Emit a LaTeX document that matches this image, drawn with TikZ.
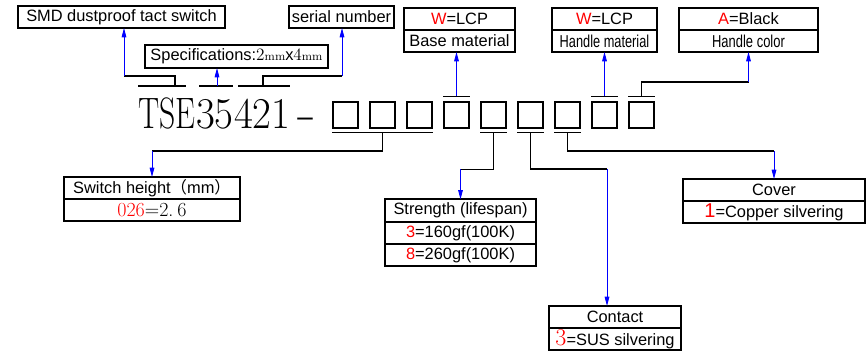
\documentclass[tikz,border=0pt]{standalone}
\usepackage{fontspec}
\setsansfont{Liberation Sans}
\newfontfamily\cjk{Noto Sans CJK SC}
\usetikzlibrary{arrows.meta,positioning}
\newcommand{\opt}[1]{\textcolor{red}{#1}}

\begin{document}
\begin{tikzpicture}[
  x=0.75pt, y=-0.75pt, font=\sffamily\fontsize{12.3}{14}\selectfont,
  cell/.style={draw, line width=1.5pt, minimum height=16.5pt, inner sep=0pt, outer sep=0pt},
  sq/.style={draw, line width=1.1pt, minimum width=18.75pt, minimum height=19.5pt, inner sep=0pt},
  code/.style={font=\rmfamily\fontsize{33}{33}\selectfont, inner sep=0pt, anchor=base west},
  wire/.style={line width=1.1pt},
  bar/.style={line width=1.1pt},
  link/.style={blue, line width=0.7pt, -{Triangle[length=7pt,width=3.5pt]}}]
\useasboundingbox (0,0) rectangle (866,351);

% part number
\node[code] (tse) at (138,128) {\scalebox{0.72}[1]{TSE}};
\node[code] (n35) at (tse.base east) {\scalebox{0.93}[1]{35}};
\node[code] (n421) at (n35.base east) {\scalebox{0.93}[1]{421}};
\node[code] (dash) at (297,128) {\scalebox{1.4}[1]{-}};
\foreach \i in {1,...,9}
  \node[sq] (s\i) at ({345.5+37*(\i-1)},115) {};

% top boxes
\node[cell, minimum width=155.25pt] (smd) at (121.5,17) {SMD dustproof tact switch};
\node[cell, minimum width=78.75pt] (serial) at (341.5,17) {serial number};
\node[cell, minimum width=137.25pt, minimum height=17.25pt] (spec) at (236.5,56.5)
  {Specifications:{\rmfamily\fontsize{13}{13}\selectfont 2{\fontsize{9}{9}\selectfont mm}}x{\rmfamily\fontsize{13}{13}\selectfont 4{\fontsize{9}{9}\selectfont mm}}};
\node[cell, minimum width=83.25pt] (base1) at (459.5,19) {\opt{W}=LCP};
\node[cell, minimum width=83.25pt, below=0pt of base1] (base2) {Base material};
\node[cell, minimum width=78.75pt] (hmat1) at (604.5,19) {\opt{W}=LCP};
\node[cell, minimum width=78.75pt, below=0pt of hmat1] (hmat2) {\scalebox{0.78}[1.05]{Handle material}};
\node[cell, minimum width=104.25pt] (hcol1) at (748.5,19) {\opt{A}=Black};
\node[cell, minimum width=104.25pt, below=0pt of hcol1] (hcol2) {\scalebox{0.79}[1.05]{Handle color}};

% bottom boxes
\node[cell, minimum width=132pt] (sw1) at (152,188) {Switch height{\cjk （}mm{\cjk ）}};
\node[cell, minimum width=132pt, below=0pt of sw1] (sw2)
  {\rmfamily\fontsize{15}{15}\selectfont\opt{026}=2.\hspace{3pt}6};
\node[cell, minimum width=113.25pt, minimum height=16.75pt] (str1) at (460.5,210.5) {Strength (lifespan)};
\node[cell, minimum width=113.25pt, minimum height=16.75pt, below=0pt of str1] (str2) {\opt{3}=160gf(100K)};
\node[cell, minimum width=113.25pt, minimum height=16.75pt, below=0pt of str2] (str3) {\opt{8}=260gf(100K)};
\node[cell, minimum width=136.5pt] (cov1) at (774,190) {Cover};
\node[cell, minimum width=136.5pt, below=0pt of cov1] (cov2)
  {{\fontsize{15}{15}\selectfont\opt{1}}=Copper silvering};
\node[cell, minimum width=99pt] (con1) at (615,317) {Contact};
\node[cell, minimum width=99pt, below=0pt of con1] (con2)
  {{\rmfamily\fontsize{18}{18}\selectfont\opt{3}}=SUS silvering};

% bars over and under the code
\draw[bar] (138,86) -- (186,86);
\draw[bar] (199,86) -- (233,86);
\draw[bar] (238,86) -- (290,86);
\foreach \i in {4,8,9}
  \draw[bar] ([yshift=3.75pt]s\i.north west) -- ([yshift=3.75pt]s\i.north east);
\draw[bar] ([yshift=-3pt]s1.south west) -- ([yshift=-3pt]s3.south east);
\foreach \i in {5,6,7}
  \draw[bar] ([yshift=-3pt]s\i.south west) -- ([yshift=-3pt]s\i.south east);

% connectors, top
\coordinate (t1) at (175,86);
\coordinate (t2) at (217,86);
\coordinate (t3) at (263,86);
\coordinate (k1) at (124,76);
\coordinate (k3) at (342,76);
\draw[wire] (t1) |- (k1);
\draw[link] (k1) -- (k1 |- smd.south);
\draw[link] (t2) -- (t2 |- spec.south);
\draw[wire] (t3) |- (k3);
\draw[link] (k3) -- (k3 |- serial.south);
\draw[link] ([yshift=3.75pt]s4.north) -- (s4.north |- base2.south);
\draw[link] ([yshift=3.75pt]s8.north) -- (s8.north |- hmat2.south);
\draw[wire] ([yshift=3.75pt]s9.north) |- ([yshift=-22.5pt]hcol2.south) coordinate (k9);
\draw[link] (k9) -- (hcol2.south);

% connectors, bottom
\draw[wire] ([yshift=-3pt]s2.south) |- ([yshift=19.5pt]sw1.north) coordinate (k2);
\draw[link] (k2) -- (sw1.north);
\draw[wire] ([yshift=-3pt]s5.south) |- ([yshift=22.5pt]str1.north) coordinate (k5);
\draw[link] (k5) -- (str1.north);
\draw[wire] ([yshift=-3pt]s6.south) |- ([shift={(-6pt,102.75pt)}]con1.north) coordinate (k6);
\draw[link] (k6) -- (k6 |- con1.north);
\draw[wire] ([yshift=-3pt]s7.south) |- ([yshift=21pt]cov1.north) coordinate (k7);
\draw[link] (k7) -- (cov1.north);
\end{tikzpicture}
\end{document}
